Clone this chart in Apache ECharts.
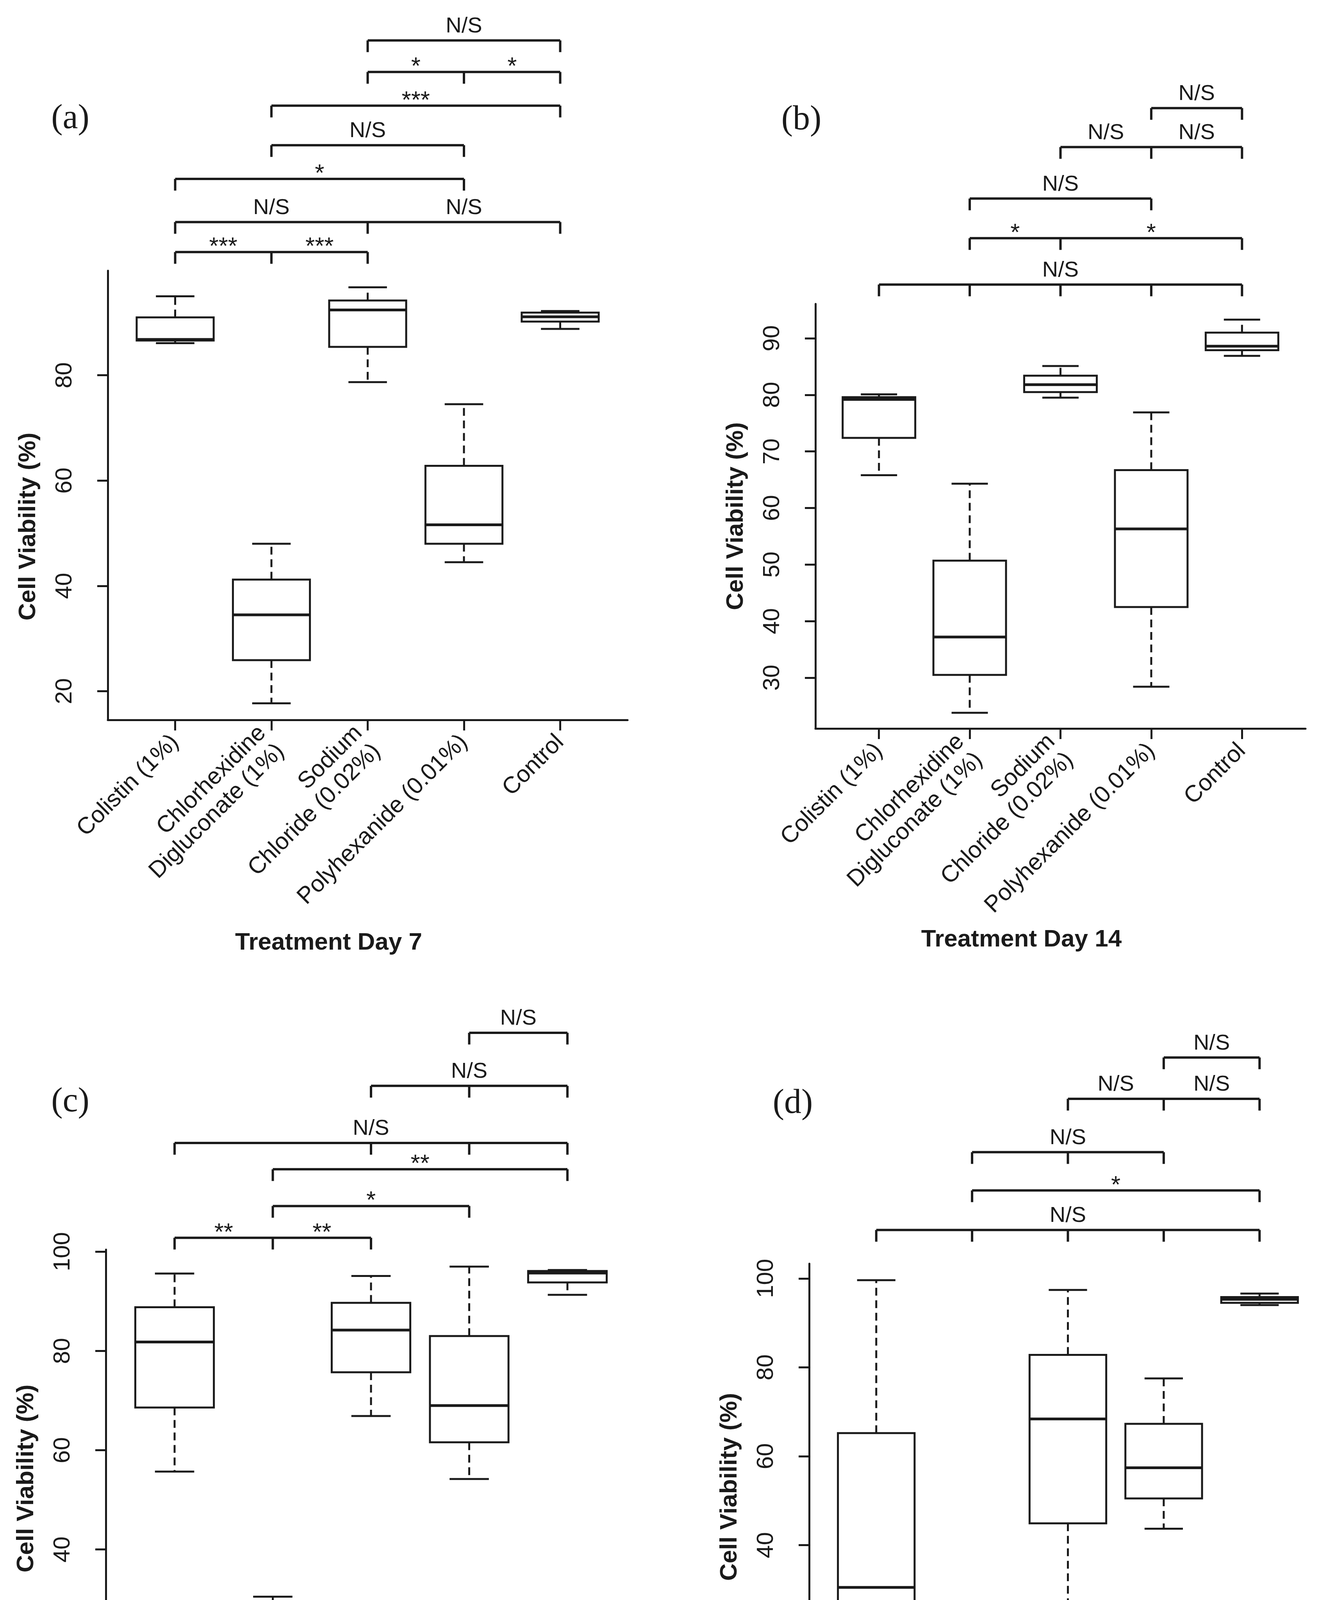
<!DOCTYPE html>
<html>
<head>
<meta charset="utf-8">
<script src="https://cdn.jsdelivr.net/npm/echarts@6/dist/echarts.min.js"></script>
<style>
html,body{margin:0;padding:0;background:#ffffff;}
#c{width:3421px;height:5024px;}
</style>
</head>
<body>
<div id="c"></div>
<script>
// ---------------- data ----------------
const categories = [
  'Colistin (1%)',
  'Chlorhexidine\nDigluconate (1%)',
  'Sodium\nChloride (0.02%)',
  'Polyhexanide (0.01%)',
  'Control'
];
const panelLabels = ['(a)', '(b)', '(c)', '(d)'];
const dayTitles = ['Treatment Day 7', 'Treatment Day 14', 'Treatment Day 21', 'Treatment Day 28'];
const yAxisTitle = 'Cell Viability (%)';

// five-number summaries per treatment: [min, Q1, median, Q3, max]
const day7 = [
  [86.1, 86.6, 86.8, 91.0, 95.0],
  [17.7, 25.9, 34.5, 41.2, 48.0],
  [78.7, 85.4, 92.4, 94.2, 96.7],
  [44.5, 48.0, 51.6, 62.8, 74.5],
  [88.8, 90.2, 91.1, 91.9, 92.2]
];
const day14 = [
  [65.8, 72.4, 79.2, 79.6, 80.1],
  [23.8, 30.5, 37.2, 50.7, 64.3],
  [79.5, 80.5, 81.8, 83.4, 85.1],
  [28.4, 42.5, 56.3, 66.7, 76.9],
  [86.9, 87.9, 88.6, 91.0, 93.3]
];
const day21 = [
  [55.7, 68.6, 81.8, 88.8, 95.6],
  [11.6, 17.2, 22.8, 26.7, 30.5],
  [66.9, 75.7, 84.2, 89.7, 95.1],
  [54.2, 61.6, 69.0, 83.0, 97.0],
  [91.3, 93.8, 95.7, 96.1, 96.3]
];
const day28 = [
  [12.2, 21.6, 30.5, 65.2, 99.6],
  [6.6, 7.0, 7.3, 11.3, 15.2],
  [21.8, 44.9, 68.4, 82.8, 97.4],
  [43.7, 50.5, 57.4, 67.3, 77.5],
  [94.0, 94.5, 95.3, 95.8, 96.6]
];

// y-axis tick labels
const yTicks7 = [20, 40, 60, 80];
const yTicks14 = [30, 40, 50, 60, 70, 80, 90];
const yTicks21 = [20, 40, 60, 80, 100];
const yTicks28 = [20, 40, 60, 80, 100];

// significance brackets: level (data units), joined categories, labels
const brackets7 = [
  {level: 143.6, ticks: [3, 5], labels: ['N/S']},
  {level: 137.6, ticks: [3, 4, 5], labels: ['*', '*']},
  {level: 131.2, ticks: [2, 5], labels: ['***']},
  {level: 123.7, ticks: [2, 4], labels: ['N/S']},
  {level: 117.3, ticks: [1, 4], labels: ['*']},
  {level: 109.1, ticks: [1, 3, 5], labels: ['N/S', 'N/S']},
  {level: 103.4, ticks: [1, 2, 3], labels: ['***', '***']}
];
const brackets14 = [
  {level: 130.7, ticks: [4, 5], labels: ['N/S']},
  {level: 123.8, ticks: [3, 4, 5], labels: ['N/S', 'N/S']},
  {level: 114.7, ticks: [2, 4], labels: ['N/S']},
  {level: 107.7, ticks: [2, 3, 5], labels: ['*', '*']},
  {level: 99.5, ticks: [1, 2, 3, 4, 5], labels: ['N/S']}
];
const brackets21 = [
  {level: 144.1, ticks: [4, 5], labels: ['N/S']},
  {level: 133.4, ticks: [3, 4, 5], labels: ['N/S']},
  {level: 121.9, ticks: [1, 3, 4, 5], labels: ['N/S']},
  {level: 116.6, ticks: [2, 5], labels: ['**']},
  {level: 109.2, ticks: [2, 4], labels: ['*']},
  {level: 102.8, ticks: [1, 2, 3], labels: ['**', '**']}
];
const brackets28 = [
  {level: 149.7, ticks: [4, 5], labels: ['N/S']},
  {level: 140.4, ticks: [3, 4, 5], labels: ['N/S', 'N/S']},
  {level: 128.4, ticks: [2, 3, 4], labels: ['N/S']},
  {level: 119.8, ticks: [2, 5], labels: ['*']},
  {level: 110.9, ticks: [1, 2, 3, 4, 5], labels: ['N/S']}
];

// ---------------- styling / layout ----------------
const INK = '#1a1a1a';
const SANS = '"Liberation Sans", Arial, Helvetica, sans-serif';
const SERIF = '"Liberation Serif", "Times New Roman", serif';
const LW = 5;

const layout = [
  {left: 276, top: 693, width: 1331, height: 1150, labelX: 180, labelY: 305, titleGap: 540, nameShift: 160},
  {left: 2088, top: 778, width: 1255, height: 1087, labelX: 2052, labelY: 308, titleGap: 510, nameShift: 0},
  {left: 271, top: 3199, width: 1358, height: 1172, labelX: 180, labelY: 2822, titleGap: 537, nameShift: 0},
  {left: 2072, top: 3235, width: 1325, height: 1143, labelX: 2030, labelY: 2826, titleGap: 530, nameShift: 0}
];

const panels = [
  {stats: day7, yTicks: yTicks7, brackets: brackets7},
  {stats: day14, yTicks: yTicks14, brackets: brackets14},
  {stats: day21, yTicks: yTicks21, brackets: brackets21},
  {stats: day28, yTicks: yTicks28, brackets: brackets28}
];

function boxRenderer(params, api) {
  const x = api.value(0);
  const vMin = api.value(1), q1 = api.value(2), med = api.value(3), q3 = api.value(4), vMax = api.value(5);
  const c = api.coord([x, med]);
  const cx = c[0];
  const halfW = api.size([0.8, 0])[0] / 2;
  const capHalf = api.size([0.4, 0])[0] / 2;
  const yMin = api.coord([x, vMin])[1];
  const yQ1 = api.coord([x, q1])[1];
  const yMed = c[1];
  const yQ3 = api.coord([x, q3])[1];
  const yMax = api.coord([x, vMax])[1];
  const solid = {stroke: INK, lineWidth: LW, fill: null};
  const dashed = {stroke: INK, lineWidth: LW, lineDash: [20, 12], fill: null};
  return {
    type: 'group',
    children: [
      {type: 'line', shape: {x1: cx, y1: yQ3, x2: cx, y2: yMax}, style: dashed},
      {type: 'line', shape: {x1: cx, y1: yQ1, x2: cx, y2: yMin}, style: dashed},
      {type: 'line', shape: {x1: cx - capHalf, y1: yMax, x2: cx + capHalf, y2: yMax}, style: solid},
      {type: 'line', shape: {x1: cx - capHalf, y1: yMin, x2: cx + capHalf, y2: yMin}, style: solid},
      {type: 'rect', shape: {x: cx - halfW, y: yQ3, width: 2 * halfW, height: yQ1 - yQ3},
        style: {stroke: INK, lineWidth: LW, fill: '#ffffff'}},
      {type: 'line', shape: {x1: cx - halfW, y1: yMed, x2: cx + halfW, y2: yMed},
        style: {stroke: INK, lineWidth: 7}}
    ]
  };
}

function makeBracketRenderer(list) {
  return function (params, api) {
    const b = list[params.dataIndex];
    const yPix = api.coord([b.ticks[0], b.level])[1];
    const xs = b.ticks.map(t => api.coord([t, b.level])[0]);
    const st = {stroke: INK, lineWidth: 6};
    const children = [];
    children.push({type: 'line', shape: {x1: xs[0], y1: yPix, x2: xs[xs.length - 1], y2: yPix}, style: st});
    xs.forEach(px => {
      children.push({type: 'line', shape: {x1: px, y1: yPix, x2: px, y2: yPix + 30}, style: st});
    });
    let labelXs;
    if (b.labels.length === b.ticks.length - 1) {
      labelXs = b.labels.map((l, k) => (xs[k] + xs[k + 1]) / 2);
    } else {
      labelXs = [(xs[0] + xs[xs.length - 1]) / 2];
    }
    b.labels.forEach((l, k) => {
      const isStar = l.indexOf('*') >= 0;
      children.push({
        type: 'text',
        x: labelXs[k],
        y: yPix - (isStar ? 12 : 36),
        style: {
          text: l,
          font: (isStar ? '62px ' : '56px ') + SANS,
          fill: INK,
          textAlign: 'center',
          textVerticalAlign: 'middle'
        }
      });
    });
    return {type: 'group', children: children};
  };
}

const grids = [], xAxes = [], yAxes = [], series = [], graphics = [];

panels.forEach((p, i) => {
  const L = layout[i];
  let lo = Infinity, hi = -Infinity;
  p.stats.forEach(s => { lo = Math.min(lo, s[0]); hi = Math.max(hi, s[4]); });
  const pad = (hi - lo) * 0.04;

  grids.push({left: L.left, top: L.top, width: L.width, height: L.height, containLabel: false});

  xAxes.push({
    type: 'value', gridIndex: i, min: 0.3, max: 5.7,
    name: dayTitles[i], nameLocation: 'middle', nameGap: L.titleGap,
    nameTextStyle: {fontFamily: SANS, fontSize: 62, fontWeight: 'bold', color: INK, padding: [0, 200, 0, 0]},
    axisLine: {show: true, onZero: false, lineStyle: {color: INK, width: LW}},
    axisTick: {show: true, length: 27, customValues: [1, 2, 3, 4, 5], lineStyle: {color: INK, width: LW}},
    axisLabel: {
      show: true, customValues: [1, 2, 3, 4, 5], rotate: 45, margin: 48,
      fontFamily: SANS, fontSize: 60, lineHeight: 66, color: INK,
      formatter: v => categories[Math.round(v) - 1] || ''
    },
    splitLine: {show: false}
  });

  yAxes.push({
    type: 'value', gridIndex: i, min: lo - pad, max: hi + pad,
    name: yAxisTitle, nameLocation: 'middle', nameGap: 172, nameRotate: 90,
    nameTextStyle: {fontFamily: SANS, fontSize: 62, fontWeight: 'bold', color: INK,
      padding: [0, L.nameShift, 0, 0]},
    axisLine: {show: true, onZero: false, lineStyle: {color: INK, width: LW}},
    axisTick: {show: true, length: 27, customValues: p.yTicks, lineStyle: {color: INK, width: LW}},
    axisLabel: {show: true, customValues: p.yTicks, rotate: 90, margin: 80,
      fontFamily: SANS, fontSize: 60, color: INK},
    splitLine: {show: false}
  });

  series.push({
    type: 'custom', xAxisIndex: i, yAxisIndex: i, clip: false, silent: true,
    data: p.stats.map((s, k) => [k + 1].concat(s)),
    encode: {x: 0, y: [1, 2, 3, 4, 5]},
    renderItem: boxRenderer
  });
  series.push({
    type: 'custom', xAxisIndex: i, yAxisIndex: i, clip: false, silent: true,
    data: p.brackets.map(b => [b.ticks[0], b.level]),
    encode: {x: 0, y: 1},
    renderItem: makeBracketRenderer(p.brackets)
  });

  graphics.push({
    type: 'text', x: L.labelX, y: L.labelY,
    style: {text: panelLabels[i], font: '88px ' + SERIF, fill: INK,
      textAlign: 'center', textVerticalAlign: 'middle'}
  });
});

const chart = echarts.init(document.getElementById('c'), null, {renderer: 'canvas', width: 3421, height: 5024});
chart.setOption({
  backgroundColor: '#ffffff',
  animation: false,
  grid: grids,
  xAxis: xAxes,
  yAxis: yAxes,
  series: series,
  graphic: graphics
});
</script>
</body>
</html>
